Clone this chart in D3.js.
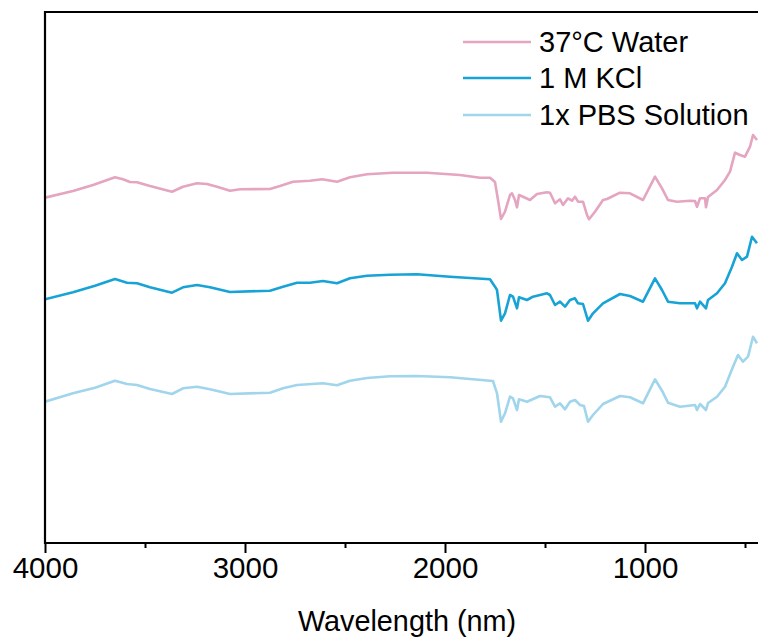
<!DOCTYPE html>
<html>
<head>
<meta charset="utf-8">
<script src="https://cdn.jsdelivr.net/npm/d3@7"></script>
<style>
  html, body { margin: 0; padding: 0; background: #fff; }
  svg { display: block; }
  text { font-family: "Liberation Sans", Arial, sans-serif; fill: #000; }
</style>
</head>
<body>
<svg id="chart" width="758" height="641"></svg>
<script>
// ---- data (arbitrary intensity units, stacked spectra) ----
const seriesNames = ["37°C Water", "1 M KCl", "1x PBS Solution"];
const seriesColors = ["#e5a4c0", "#17a3d6", "#a0d5ec"];

const waterWn = [4000,3860,3760,3650,3610,3575,3540,3475,3365,3310,3240,3190,3140,3075,3025,2875,2825,2760,2675,2615,2540,2475,2390,2260,2090,1925,1825,1775,1750,1735,1720,1700,1675,1665,1650,1640,1630,1610,1575,1540,1490,1475,1450,1425,1410,1385,1365,1350,1335,1310,1290,1280,1250,1210,1190,1125,1075,1010,950,915,885,840,775,750,740,725,700,695,685,640,600,575,550,525,500,475,460,440];
const waterVal = [345.3,352,358,365.7,363.7,361,360.7,357,351.3,356.3,359.7,359,356.3,352.3,353.7,354,357,361.3,362.3,363.7,361.3,365.7,368.7,370.3,370.3,368,365.3,365.3,361,343,324,331.3,348,349.7,343,335.7,348,346.3,343,349,350.7,350.3,339.7,343.7,338,344.7,342.3,346.3,341.3,341.3,328,323.7,331.3,343,344,350.3,349.7,343,366.3,354.7,343,341.3,342.3,342,336.3,344.7,344.7,335.7,346,353,363,371.3,390.3,388,386.3,396.3,408,403];

const kclWn = [4000,3860,3750,3650,3590,3540,3475,3365,3310,3240,3175,3075,2875,2810,2740,2675,2610,2540,2475,2390,2275,2140,1975,1775,1750,1740,1720,1700,1675,1660,1640,1630,1590,1560,1490,1475,1450,1425,1400,1375,1350,1335,1310,1285,1260,1210,1125,1075,1010,950,915,885,825,750,740,725,695,685,640,600,565,540,515,490,465,440];
const kclVal = [243.7,250.7,257.3,264,260.3,259.7,255.7,250.3,255.7,258,255.7,251,252.3,256.3,260.3,260.3,262,259.7,264.7,267.3,268.3,268.7,266.3,263.7,256.3,253,222.3,229.7,248,246.3,234.7,245.7,243,246.3,249.7,248,238,241.3,236.3,243,244.7,239.7,239,222.3,229.7,239.7,249,247,241.3,264.7,253,241.3,239.7,239.7,234.7,241.3,234.7,243,249.7,259.7,276.3,289.7,283,286.3,306.3,299.7];

const pbsWn = [4000,3860,3750,3650,3590,3540,3475,3365,3310,3240,3175,3075,2875,2810,2740,2610,2540,2475,2390,2275,2140,1975,1775,1760,1740,1720,1700,1675,1660,1640,1630,1590,1525,1475,1450,1425,1400,1375,1350,1325,1305,1285,1260,1210,1125,1075,1010,950,915,885,825,750,740,725,695,685,640,600,560,535,510,485,460,440];
const pbsVal = [141.3,149.7,155.3,162.3,159,158,154,149,154.7,156.3,153.7,149,150.3,154.7,158,159.7,157.7,162.3,165,166.7,167,165.7,162.3,162,149.7,121.3,129.7,146.3,144.7,133,143.7,141.3,147,145.7,136.3,139.7,133.7,141.3,143,138,137,121.3,128,139,147,145.7,139.7,163.7,152.3,140.3,136.3,138,133,139,133,140,146.3,156.3,176.3,188,181.3,186.3,206.3,199.7];

const xTicks = [4000, 3000, 2000, 1000];
const xMinorTicks = [3500, 2500, 1500, 500];
const xDomain = [4000, 400];
const yDomain = [0, 531];
const xTitle = "Wavelength (nm)";

// ---- layout ----
const margin = { left: 45, top: 12, right: 765, bottom: 543 };
const svg = d3.select("#chart");

const x = d3.scaleLinear().domain(xDomain).range([margin.left, margin.right]);
const y = d3.scaleLinear().domain(yDomain).range([margin.bottom, margin.top]);

const series = [
  { name: seriesNames[0], color: seriesColors[0], pts: waterWn.map((w, i) => [w, waterVal[i]]) },
  { name: seriesNames[1], color: seriesColors[1], pts: kclWn.map((w, i) => [w, kclVal[i]]) },
  { name: seriesNames[2], color: seriesColors[2], pts: pbsWn.map((w, i) => [w, pbsVal[i]]) }
];

svg.append("defs").append("clipPath").attr("id", "clip")
  .append("rect")
  .attr("x", margin.left).attr("y", margin.top)
  .attr("width", margin.right - margin.left).attr("height", margin.bottom - margin.top);

const line = d3.line().x(d => x(d[0])).y(d => y(d[1])).curve(d3.curveLinear);

const g = svg.append("g").attr("clip-path", "url(#clip)");
series.forEach(s => {
  g.append("path")
    .datum(s.pts)
    .attr("fill", "none")
    .attr("stroke", s.color)
    .attr("stroke-width", 2.6)
    .attr("stroke-linejoin", "round")
    .attr("d", line);
});

// ---- axes ----
const xAxis = d3.axisBottom(x).tickValues(xTicks).tickSize(10).tickPadding(4).tickFormat(d3.format("d"));
const gx = svg.append("g").attr("transform", `translate(0,${margin.bottom})`).call(xAxis);
gx.select(".domain").remove();
gx.selectAll(".tick line").attr("stroke", "#000").attr("stroke-width", 2);
gx.selectAll(".tick text").attr("font-size", "29.5px").attr("fill", "#000")
  .attr("font-family", "'Liberation Sans', Arial, sans-serif");

const xAxisMinor = d3.axisBottom(x).tickValues(xMinorTicks).tickSize(5).tickFormat("");
const gxm = svg.append("g").attr("transform", `translate(0,${margin.bottom})`).call(xAxisMinor);
gxm.select(".domain").remove();
gxm.selectAll(".tick line").attr("stroke", "#000").attr("stroke-width", 2);

// frame lines (bottom, left, top)
const frame = svg.append("g").attr("stroke", "#000").attr("stroke-width", 2.2).attr("fill", "none");
frame.append("line").attr("x1", margin.left).attr("x2", margin.right + 5).attr("y1", margin.bottom).attr("y2", margin.bottom);
frame.append("line").attr("x1", margin.left).attr("x2", margin.left).attr("y1", margin.top - 1).attr("y2", margin.bottom + 1);
frame.append("line").attr("x1", margin.left - 1).attr("x2", margin.right + 5).attr("y1", margin.top).attr("y2", margin.top);

// axis title
svg.append("text")
  .attr("x", 407)
  .attr("y", 631)
  .attr("text-anchor", "middle")
  .attr("font-size", "28.8px")
  .text(xTitle);

// ---- legend ----
const legend = svg.append("g");
const legY = [42, 78, 115];
series.forEach((s, i) => {
  legend.append("line")
    .attr("x1", 463).attr("x2", 531)
    .attr("y1", legY[i]).attr("y2", legY[i])
    .attr("stroke", s.color).attr("stroke-width", 2.6);
  legend.append("text")
    .attr("x", 539).attr("y", legY[i] + 10)
    .attr("font-size", "29px")
    .text(s.name);
});
</script>
</body>
</html>
